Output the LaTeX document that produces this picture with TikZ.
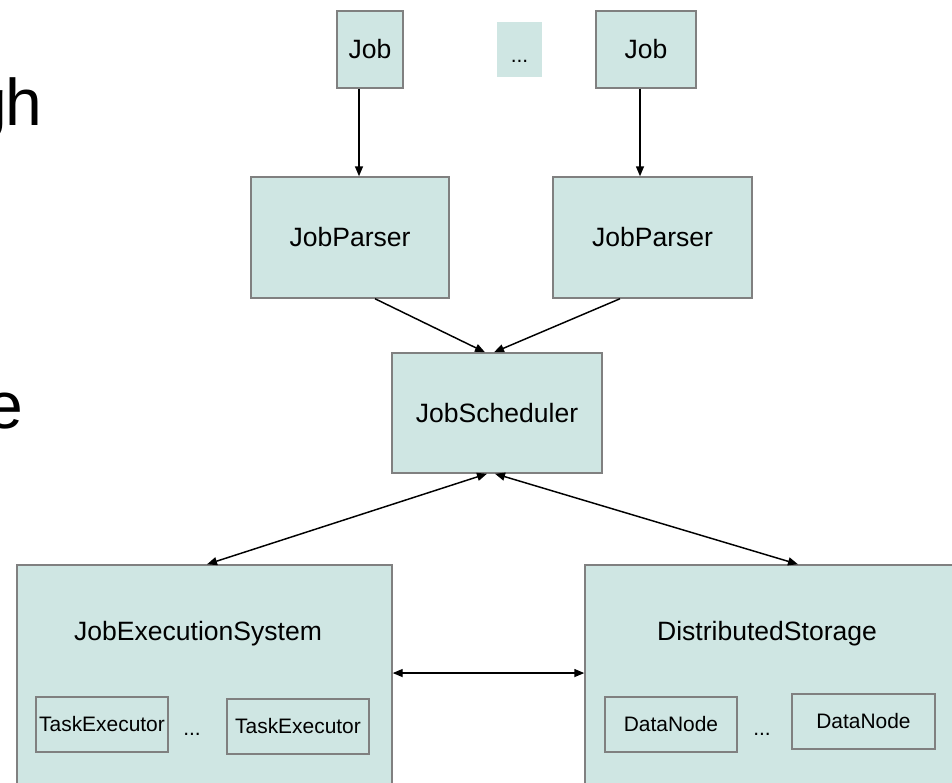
\documentclass[tikz,border=0pt]{standalone}
\usepackage{fontspec}
\setmainfont{Liberation Sans}
\usetikzlibrary{arrows.meta}

\definecolor{boxfill}{RGB}{207,230,227}
\definecolor{boxline}{RGB}{128,128,128}

\tikzset{
  box/.style = {draw = boxline, fill = boxfill, line width = 1.1pt, inner sep = 0pt,
                font = \fontsize{19.9}{24}\selectfont},
  subbox/.style = {draw = boxline, fill = boxfill, line width = .8pt, inner sep = 0pt,
                   font = \fontsize{15.7}{19}\selectfont},
  flow/.style = {line width = 1.1pt, -{Triangle[length=7.5pt,width=6pt]}},
  both/.style = {line width = 1.1pt, {Triangle[length=7.5pt,width=6pt]}-{Triangle[length=7.5pt,width=6pt]}}
}

\begin{document}
\begin{tikzpicture}[x = .75pt, y = -.75pt]
\clip (0,0) rectangle (952,782);
\fill[white] (0,0) rectangle (952,782);

% slide text cut off at the left
\path (42,125) node[anchor = base east, inner sep = 0pt, font = \fontsize{49.5}{59}\selectfont] (txtgh) {g\kern-1.5pt h};
\path (23,428) node[anchor = base east, inner sep = 0pt, font = \fontsize{49.5}{59}\selectfont] (txte) {e};

% jobs
\path (370,49.5) node[box, minimum width = 49.5pt, minimum height = 57.75pt] (job1) {Job};
\path (519.5,49.5) node[fill = boxfill, inner sep = 0pt, minimum width = 33.75pt, minimum height = 41.25pt] (jobdots) {};
\path (519.5,62) node[anchor = base, inner sep = 0pt, font = \fontsize{15.7}{19}\selectfont] (jobdotstext) {...};
\path (646,49.5) node[box, minimum width = 75pt, minimum height = 57.75pt] (job2) {Job};

% parsers and scheduler
\path (350,237.5) node[box, minimum width = 148.5pt, minimum height = 90.75pt] (parser1) {JobParser};
\path (652.5,237.5) node[box, minimum width = 149.25pt, minimum height = 90.75pt] (parser2) {JobParser};
\path (497,413) node[box, minimum width = 157.5pt, minimum height = 90pt] (sched) {JobScheduler};

% execution system
\path (204.5,682.5) node[box, minimum width = 281.25pt, minimum height = 176.25pt] (exec) {};
\path (198,640) node[anchor = base, inner sep = 0pt, font = \fontsize{19.9}{24}\selectfont] (execlabel) {JobExecutionSystem};
\path (102,724.5) node[subbox, minimum width = 99pt, minimum height = 41.25pt] (task1) {TaskExecutor};
\path (192,735) node[anchor = base, inner sep = 0pt, font = \fontsize{15.7}{19}\selectfont] (taskdots) {...};
\path (298,726.5) node[subbox, minimum width = 106.5pt, minimum height = 41.25pt] (task2) {TaskExecutor};

% storage
\path (772.5,682.5) node[box, minimum width = 281.25pt, minimum height = 176.25pt] (store) {};
\path (767,640) node[anchor = base, inner sep = 0pt, font = \fontsize{19.9}{24}\selectfont] (storelabel) {DistributedStorage};
\path (671,724.5) node[subbox, minimum width = 99pt, minimum height = 41.25pt] (data1) {DataNode};
\path (762,735) node[anchor = base, inner sep = 0pt, font = \fontsize{15.7}{19}\selectfont] (datadots) {...};
\path (863.5,721.5) node[subbox, minimum width = 107.25pt, minimum height = 41.25pt] (data2) {DataNode};

% connectors
\draw[flow] ([xshift = -8.25pt]job1.south) -- ([xshift = -8.25pt]job1.south |- parser1.north);
\draw[flow] ([xshift = -4.5pt]job2.south) -- ([xshift = -4.5pt]job2.south |- parser2.north);
\draw[flow] ([xshift = 18.75pt]parser1.south) -- ([xshift = -9pt]sched.north);
\draw[flow] ([xshift = -24.4pt]parser2.south) -- ([xshift = -2.25pt]sched.north);
\draw[both] ([xshift = -7.5pt]sched.south) -- ([xshift = 1.9pt]exec.north);
\draw[both] ([xshift = -1.5pt]sched.south) -- ([xshift = 19.1pt]store.north);
\draw[both] ([yshift = 7.1pt]exec.east) -- ([yshift = 7.1pt]store.west);
\end{tikzpicture}
\end{document}
